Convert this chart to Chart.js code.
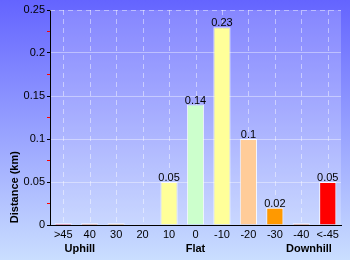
<!DOCTYPE html>
<html><head><meta charset="utf-8">
<script src="https://cdn.jsdelivr.net/npm/chart.js@4/dist/chart.umd.min.js"></script>
<style>html,body{margin:0;padding:0;background:#fff}#wrap{width:350px;height:260px}</style>
</head><body><div id="wrap"><canvas id="c" width="350" height="260"></canvas></div>
<script>
const categories = ['>45','40','30','20','10','0','-10','-20','-30','-40','<-45'];
const distances = [0.002,0.002,0.002,0.001,0.05,0.14,0.23,0.1,0.02,0.002,0.05];
const valueLabels = ['','','','','0.05','0.14','0.23','0.1','0.02','','0.05'];
const barColors = ['#ff0000','#ff6600','#ff9900','#ffcc99','#ffff99','#ccffcc','#ffff99','#ffcc99','#ff9900','#ff6600','#ff0000'];
const groupLabels = ['Uphill','Flat','Downhill'];
const groupPositions = [0.63,5,9.29];
const yTitle = 'Distance (km)';
const FONT = '"Liberation Sans", Arial, sans-serif';

const bgPlugin = {
  id:'bg',
  beforeDraw(chart){
    const {ctx,width,height,chartArea:a} = chart;
    ctx.save();
    const g = ctx.createLinearGradient(0,0,0,height);
    g.addColorStop(0,'#6464ff');
    g.addColorStop(1,'#cadeff');
    ctx.fillStyle = g; ctx.fillRect(0,0,width,height);
    ctx.fillStyle = 'rgba(255,255,255,0.2)';
    ctx.fillRect(a.left,a.top,a.right-a.left,a.bottom-a.top);
    ctx.restore();
  },
  beforeDatasetsDraw(chart){
    const {ctx,chartArea:a} = chart;
    const xs = chart.scales.x;
    ctx.save();
    ctx.strokeStyle = 'rgba(255,255,255,0.45)';
    ctx.lineWidth = 1;
    ctx.setLineDash([5,4]);
    categories.forEach((c,i)=>{
      const x = Math.round(xs.getPixelForValue(i)) + 0.5;
      ctx.beginPath(); ctx.moveTo(x, a.top); ctx.lineTo(x, a.bottom); ctx.stroke();
    });
    const ty = Math.round(a.top) + 0.5;
    ctx.beginPath(); ctx.moveTo(a.left, ty); ctx.lineTo(a.right, ty); ctx.stroke();
    ctx.restore();
  },
  afterDraw(chart){
    const {ctx} = chart;
    const meta = chart.getDatasetMeta(0);
    const xs = chart.scales.x, ys = chart.scales.y;
    ctx.save();
    ctx.fillStyle = '#000';
    ctx.font = '11px '+FONT;
    ctx.textAlign = 'center'; ctx.textBaseline = 'alphabetic';
    meta.data.forEach((b,i)=>{ if(valueLabels[i]) ctx.fillText(valueLabels[i], b.x, b.y-1); });
    ctx.font = 'bold 11px '+FONT;
    ctx.textBaseline = 'middle';
    groupLabels.forEach((t,i)=>ctx.fillText(t, xs.getPixelForValue(groupPositions[i]), 249));
    ctx.translate(15, ys.getPixelForValue(0.044));
    ctx.rotate(-Math.PI/2);
    ctx.fillText(yTitle, 0, 0);
    ctx.restore();
  }
};

new Chart(document.getElementById('c'), {
  type:'bar',
  data:{labels:categories, datasets:[{data:distances, backgroundColor:barColors, borderColor:'rgba(255,255,255,0.85)', borderWidth:1, borderSkipped:'bottom', barPercentage:0.65, categoryPercentage:1}]},
  options:{
    responsive:false, animation:false, devicePixelRatio:1,
    layout:{padding:{top:10,right:9,left:0,bottom:0}},
    plugins:{legend:{display:false}, tooltip:{enabled:false}},
    scales:{
      x:{
        grid:{display:true, color:'rgba(0,0,0,0)', drawTicks:false},
        border:{display:true, color:'#000', width:1},
        ticks:{color:'#000', font:{family:FONT,size:11}, padding:3, maxRotation:0, autoSkip:false},
        afterFit(s){ s.height = 35; }
      },
      y:{
        min:0, max:0.25,
        grid:{color:(c)=> (c.index%2===0 && c.index<10 ? 'rgba(255,255,255,0.4)' : 'rgba(0,0,0,0)'), tickColor:(c)=> (c.index%2===0 ? '#000' : '#ff0000'), tickLength:3},
        border:{color:'#000', width:1},
        ticks:{stepSize:0.025, color:'#000', font:{family:FONT,size:11}, padding:2,
          callback:(v,i)=> i%2===0 ? String(Number(Number(v).toFixed(3))) : ''},
        afterFit(s){ s.width = 50; }
      }
    }
  },
  plugins:[bgPlugin]
});
</script></body></html>
